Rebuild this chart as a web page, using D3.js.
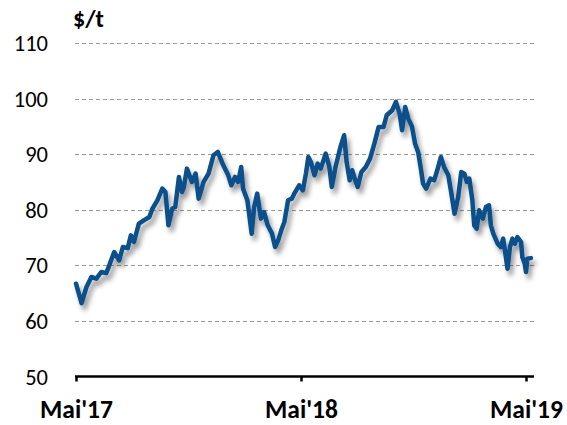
<!DOCTYPE html>
<html>
<head>
<meta charset="utf-8">
<script src="https://cdn.jsdelivr.net/npm/d3@7"></script>
<style>
  body { margin: 0; background: #fff; }
  text { font-family: Calibri, Carlito, Lato, sans-serif; fill: #000; }
</style>
</head>
<body>
<div id="chart"></div>
<script>
// price series ($/t)
var dates = [
  "2017-05-01","2017-05-10","2017-05-18","2017-05-26","2017-06-03","2017-06-11","2017-06-19","2017-06-24",
  "2017-07-02","2017-07-10","2017-07-16","2017-07-24","2017-07-29","2017-08-03","2017-08-11","2017-08-19",
  "2017-08-28","2017-09-02","2017-09-10","2017-09-18","2017-09-23","2017-09-28","2017-10-04","2017-10-09",
  "2017-10-15","2017-10-20","2017-10-23","2017-10-28","2017-11-05","2017-11-11","2017-11-16","2017-11-24",
  "2017-12-02","2017-12-10","2017-12-17","2017-12-26","2018-01-03","2018-01-08","2018-01-14","2018-01-19",
  "2018-01-24","2018-01-27","2018-02-03","2018-02-10","2018-02-14","2018-02-19","2018-02-25","2018-03-02",
  "2018-03-08","2018-03-15","2018-03-20","2018-03-25","2018-03-30","2018-04-04","2018-04-10","2018-04-16",
  "2018-04-20","2018-04-28","2018-05-04","2018-05-09","2018-05-13","2018-05-17","2018-05-23","2018-05-28",
  "2018-06-02","2018-06-10","2018-06-16","2018-06-20","2018-06-26","2018-07-04","2018-07-10","2018-07-14",
  "2018-07-19","2018-07-23","2018-07-28","2018-08-01","2018-08-07","2018-08-14","2018-08-21","2018-08-28",
  "2018-09-04","2018-09-12","2018-09-17","2018-09-26","2018-10-02","2018-10-08","2018-10-12","2018-10-17",
  "2018-10-22","2018-10-28","2018-11-02","2018-11-07","2018-11-11","2018-11-15","2018-11-20","2018-11-27",
  "2018-12-03","2018-12-08","2018-12-14","2018-12-19","2018-12-26","2018-12-31","2019-01-05","2019-01-11",
  "2019-01-16","2019-01-21","2019-01-25","2019-01-29","2019-02-03","2019-02-06","2019-02-10","2019-02-14",
  "2019-02-20","2019-02-25","2019-03-02","2019-03-05","2019-03-09","2019-03-16","2019-03-21","2019-03-25",
  "2019-03-29","2019-04-01","2019-04-05","2019-04-09","2019-04-13","2019-04-17","2019-04-23","2019-04-25",
  "2019-04-29","2019-05-01","2019-05-03","2019-05-09"
];
var prices = [
  66.7, 63.2, 66.1, 67.9, 67.6, 68.8, 68.6, 70.0,
  72.4, 70.9, 73.3, 73.1, 75.4, 74.2, 77.5, 78.1,
  78.7, 80.2, 81.7, 83.8, 83.2, 77.2, 80.2, 80.5,
  85.9, 83.2, 84.1, 87.4, 85.0, 86.5, 82.0, 85.0,
  86.5, 89.8, 90.4, 88.0, 86.2, 84.4, 85.9, 85.0,
  87.7, 83.8, 81.7, 75.7, 80.5, 82.9, 78.4, 79.6,
  77.2, 75.7, 73.3, 74.5, 76.3, 77.8, 81.7, 82.0,
  82.9, 84.4, 83.5, 86.5, 89.5, 88.6, 86.2, 88.3,
  87.4, 90.1, 87.7, 84.1, 87.7, 91.3, 93.4, 88.6,
  85.3, 87.1, 85.3, 84.1, 86.8, 87.7, 89.2, 91.9,
  94.9, 94.9, 97.0, 97.9, 99.4, 97.3, 94.3, 98.5,
  96.4, 95.0, 91.9, 90.4, 87.7, 84.7, 83.8, 85.6,
  85.3, 87.1, 89.5, 87.7, 86.2, 82.9, 79.3, 82.3,
  86.8, 86.5, 85.0, 85.6, 81.7, 77.2, 76.6, 79.9,
  78.4, 80.5, 80.8, 77.2, 75.7, 73.9, 73.3, 74.8,
  71.8, 69.4, 73.3, 74.8, 73.9, 75.1, 74.2, 71.5,
  70.3, 68.8, 71.2, 71.3
];
var yTicks = [50, 60, 70, 80, 90, 100, 110];
var xTickDates = ["2017-05-01", "2018-05-01", "2019-05-01"];
var xTickLabels = ["Mai'17", "Mai'18", "Mai'19"];
var unitLabel = "$/t";

var width = 567, height = 425;
var margin = {top: 43, right: 37, bottom: 49, left: 76};

var parse = d3.timeParse("%Y-%m-%d");
var data = dates.map(function(d, i) { return {date: parse(d), value: prices[i]}; });

var svg = d3.select("#chart")
  .append("svg")
    .attr("width", width)
    .attr("height", height);

// drop shadow under the line
var defs = svg.append("defs");
var f = defs.append("filter")
    .attr("id", "shadow")
    .attr("x", "-10%").attr("y", "-10%")
    .attr("width", "130%").attr("height", "140%");
f.append("feDropShadow")
    .attr("dx", 3).attr("dy", 5)
    .attr("stdDeviation", 2.8)
    .attr("flood-color", "#000")
    .attr("flood-opacity", 0.4);

var x = d3.scaleTime()
  .domain([parse(xTickDates[0]), parse(xTickDates[2])])
  .range([margin.left, width - margin.right - 4]);

var y = d3.scaleLinear()
  .domain([50, 110])
  .range([height - margin.bottom + 0.5, margin.top]);

// dashed gridlines
svg.append("g")
  .selectAll("line")
  .data(yTicks.filter(function(t) { return t > 50; }))
  .enter().append("line")
    .attr("x1", 75)
    .attr("x2", 535)
    .attr("y1", function(d) { return Math.round(y(d)) + 0.5; })
    .attr("y2", function(d) { return Math.round(y(d)) + 0.5; })
    .attr("stroke", "#9a9a9a")
    .attr("stroke-width", 1.2)
    .attr("stroke-dasharray", "4,3");

// y labels
svg.append("g")
  .selectAll("text")
  .data(yTicks)
  .enter().append("text")
    .attr("x", 48)
    .attr("y", function(d) { return y(d); })
    .attr("dy", "0.36em")
    .attr("text-anchor", "end")
    .style("font-size", "22.5px")
    .text(function(d) { return d; });

svg.append("text")
  .attr("x", 73)
  .attr("y", 27)
  .style("font-size", "24px")
  .style("font-weight", "bold")
  .text(unitLabel);

// x axis
var xAxis = d3.axisBottom(x)
  .tickValues(xTickDates.map(parse))
  .tickSize(5)
  .tickSizeOuter(0)
  .tickFormat(function(d, i) { return xTickLabels[i]; });

var gx = svg.append("g")
  .attr("transform", "translate(0," + y(50) + ")")
  .call(xAxis);
gx.select(".domain")
  .attr("d", "M" + (x.range()[0] - 1) + ",0H" + 534)
  .attr("stroke", "#000")
  .attr("stroke-width", 2.5);
gx.selectAll(".tick line")
  .attr("stroke", "#000")
  .attr("stroke-width", 2.5);
gx.selectAll(".tick text")
  .attr("y", 23)
  .attr("dy", "0.71em")
  .style("font-family", "Calibri, Carlito, Lato, sans-serif")
  .style("font-size", "25.5px")
  .style("font-weight", "bold")
  .attr("fill", "#000");

// price line
var line = d3.line()
  .x(function(d) { return x(d.date); })
  .y(function(d) { return y(d.value); });

svg.append("path")
  .datum(data)
  .attr("d", line)
  .attr("fill", "none")
  .attr("stroke", "#07508b")
  .attr("stroke-width", 4.5)
  .attr("stroke-linejoin", "round")
  .attr("stroke-linecap", "round")
  .attr("filter", "url(#shadow)");
</script>
</body>
</html>
